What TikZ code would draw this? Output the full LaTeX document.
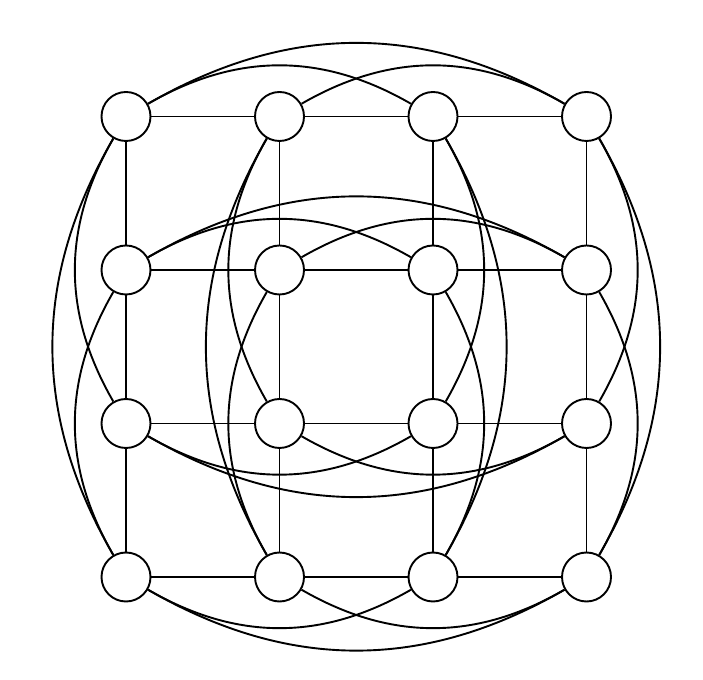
\documentclass[tikz,border=0pt]{standalone}
\begin{document}
\begin{tikzpicture}[x=1pt,y=1pt,line width=1.9pt,
  vtx/.style={circle,draw,fill=white,inner sep=0pt,minimum size=49pt}]
\useasboundingbox (0,0) rectangle (703,679);
\foreach \r in {1,...,4}{
  \foreach \c in {1,...,4}{
    \node[vtx] (n\r\c) at ({126+153.5*(\c-1)},{679-116.5-153.5*(\r-1)}) {};
  }
}
\foreach \r in {1,...,4}{
  \foreach \c/\d in {1/2,2/3,3/4}{
    \draw (n\r\c) -- (n\r\d);
    \draw (n\c\r) -- (n\d\r);
  }
}
\foreach \r/\a in {1/30,2/30,3/-30,4/-30}{
  \foreach \c/\d in {1/3,2/4,1/4}{
    \draw (n\r\c) to[bend left=\a] (n\r\d);
  }
}
\foreach \c/\a in {1/-30,2/-30,3/30,4/30}{
  \foreach \r/\s in {1/3,2/4,1/4}{
    \draw (n\r\c) to[bend left=\a] (n\s\c);
  }
}
\end{tikzpicture}
\end{document}
